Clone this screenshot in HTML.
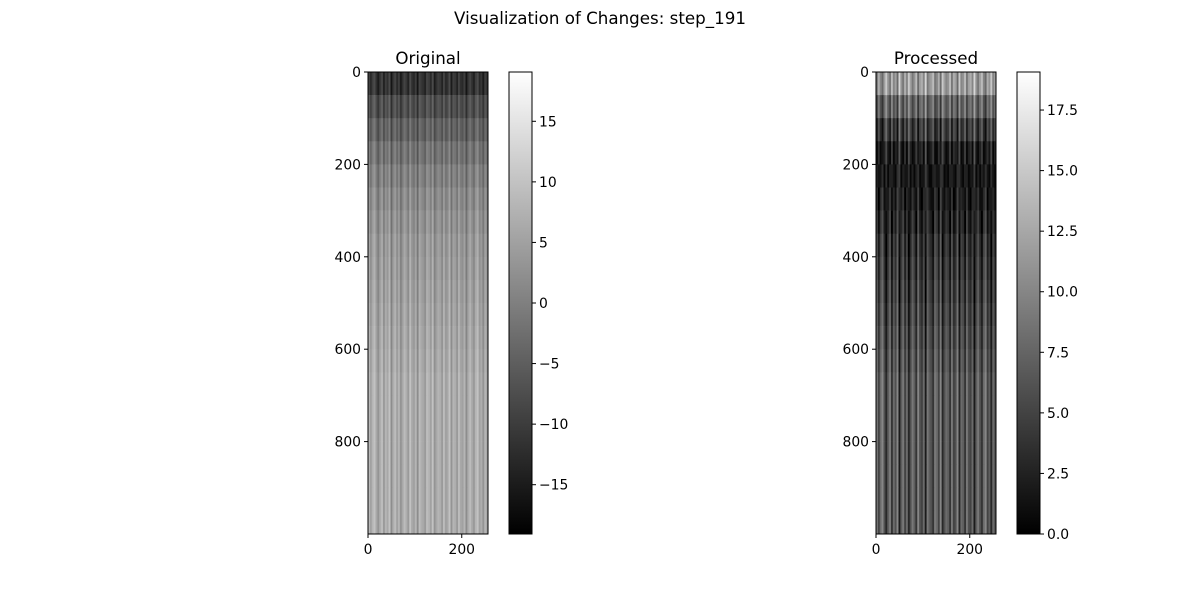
<!DOCTYPE html>
<html><head><meta charset="utf-8"><style>
body{margin:0;background:#fff;font-family:"DejaVu Sans","Liberation Sans",sans-serif}
svg text{font-family:"DejaVu Sans","Liberation Sans",sans-serif}
</style></head><body>
<svg id="fig" width="1200" height="600" xmlns="http://www.w3.org/2000/svg">
<rect width="1200" height="600" fill="#fff"/>
<text x="600" y="24" text-anchor="middle" font-size="16.7">Visualization of Changes: step_191</text>
</svg>
<script>
// data: 20 row bands (50 rows each) x 64 column groups (4 cols each)
const origRowMeans=[-12,-8,-5,-2.5,-0.5,1,2,3,3.5,4,4.5,5,5.5,6,6,6,6,6,6,6];
const colOffsets=[3,-1,2,4,0,-3,1,3,-2,2,0,4,-4,1,3,-1,2,-3,0,3,1,-2,4,0,-1,2,-4,3,1,0,-2,3,2,-1,4,-3,0,2,1,-2,3,-1,0,4,-3,2,1,-2,3,0,-1,2,-4,1,3,0,-2,2,4,-1,1,-3,2,0];
const origTicks=[-15,-10,-5,0,5,10,15];
const procTicks=[0,2.5,5,7.5,10,12.5,15,17.5];
const yTicks=[0,200,400,600,800];
const xTicks=[0,200];
const NS="http://www.w3.org/2000/svg";
const svg=document.getElementById('fig');
function mk(t,a,p){const e=document.createElementNS(NS,t);for(const k in a)e.setAttribute(k,a[k]);(p||svg).appendChild(e);return e;}
function gray(v,lo,hi){let t=(v-lo)/(hi-lo);t=Math.max(0,Math.min(1,t));const g=Math.round(t*255);return `rgb(${g},${g},${g})`;}
function panel(x0,title,transform,lo,hi,cbx,cbTicks,fmt,nm){
  const W=120,H=462,y0=72;
  const sx=v=>x0+v*W/256, sy=v=>y0+v*H/1000;
  const g=mk('g',{});
  
  
  origRowMeans.forEach((rm,r)=>{colOffsets.forEach((co,c)=>{
    const v=transform(rm+co);
    const rc=mk('rect',{x:sx(c*4),y:sy(r*50),width:sx(c*4+4)-sx(c*4)+0.3,height:sy(r*50+50)-sy(r*50)+0.3,fill:gray(v,lo,hi)},g);
    
    
  });});
  mk('rect',{x:x0,y:y0,width:W,height:H,fill:'none',stroke:'#000','stroke-width':1});
  const t=mk('text',{x:x0+W/2,y:64,'text-anchor':'middle','font-size':16.7});t.textContent=title;
  
  
  yTicks.forEach(v=>{mk('line',{x1:x0-4,x2:x0,y1:sy(v),y2:sy(v),stroke:'#000'});
    const e=mk('text',{x:x0-7,y:sy(v)+5,'text-anchor':'end','font-size':13.9});e.textContent=v;
    
    });
  xTicks.forEach(v=>{mk('line',{x1:sx(v),x2:sx(v),y1:y0+H,y2:y0+H+4,stroke:'#000'});
    const e=mk('text',{x:sx(v),y:y0+H+20,'text-anchor':'middle','font-size':13.9});e.textContent=v;
    
    });
  const defs=mk('defs',{});const gr=mk('linearGradient',{id:'gr'+nm,x1:0,y1:1,x2:0,y2:0},defs);
  mk('stop',{offset:0,'stop-color':'#000'},gr);mk('stop',{offset:1,'stop-color':'#fff'},gr);
  const cb=mk('rect',{x:cbx,y:y0,width:23,height:H,fill:`url(#gr${nm})`,stroke:'#000'});
  
  
  const cy=v=>y0+H-(v-lo)/(hi-lo)*H;
  cbTicks.forEach(v=>{mk('line',{x1:cbx+23,x2:cbx+27,y1:cy(v),y2:cy(v),stroke:'#000'});
    const e=mk('text',{x:cbx+30,y:cy(v)+5,'font-size':13.9});e.textContent=fmt(v);
    
    });
}
panel(368,'Original',v=>v,-19.07,19.07,509,origTicks,v=>v<0?'\u2212'+(-v):String(v),'original');
panel(876,'Processed',v=>Math.abs(v),0,19.07,1017,procTicks,v=>v.toFixed(1),'processed');
</script>
</body></html>
